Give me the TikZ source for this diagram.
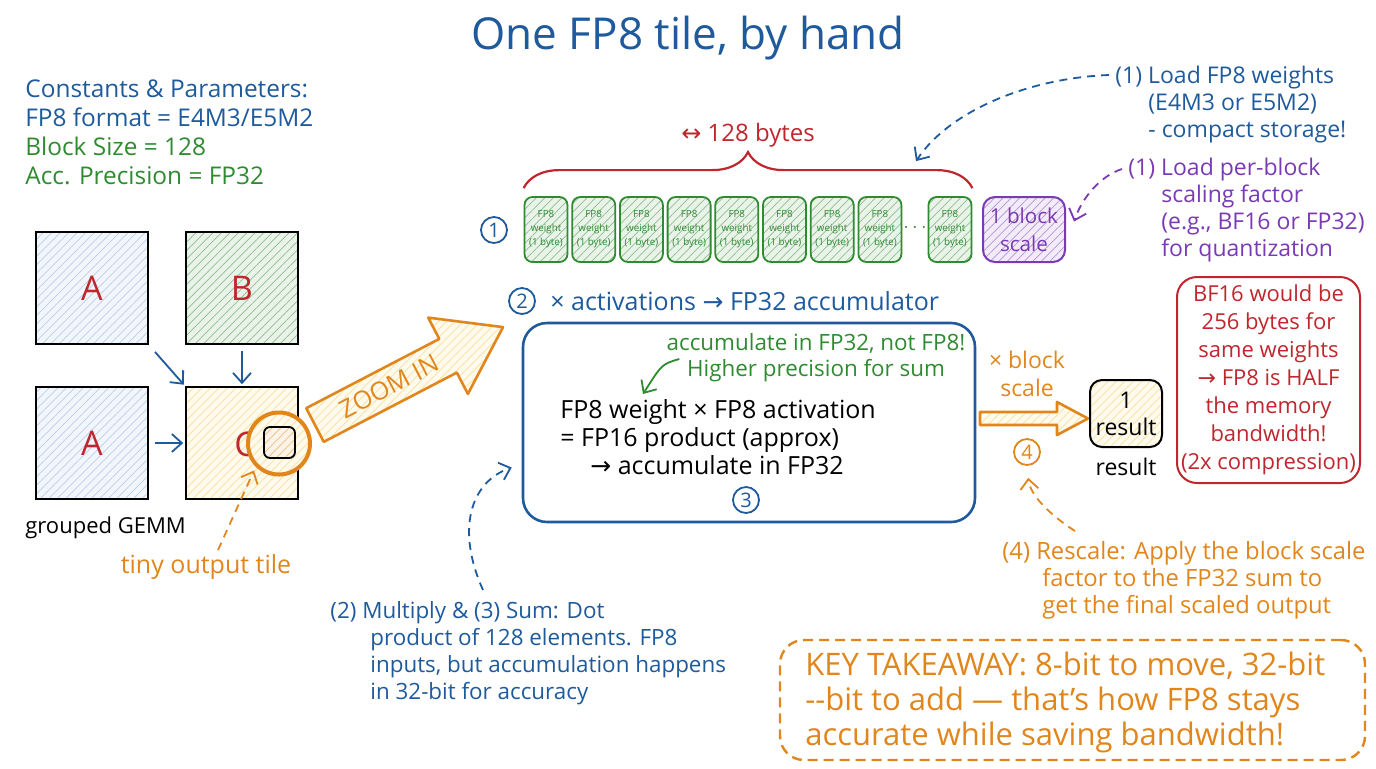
\documentclass[tikz,border=0pt]{standalone}
\usepackage{fontspec}
\setmainfont{Open Sans}
\newfontfamily\symfont{DejaVu Sans}
\usetikzlibrary{patterns.meta,decorations.pathreplacing,arrows.meta,positioning,calc}
\definecolor{inkblue}{HTML}{1E5A9C}
\definecolor{inkgreen}{HTML}{2E8B30}
\definecolor{inkred}{HTML}{C0262D}
\definecolor{inkpurple}{HTML}{7A3AB5}
\definecolor{inkorange}{HTML}{E0861C}
\definecolor{matblue}{HTML}{7FA8D8}
\definecolor{tileyellow}{HTML}{F2C94C}
\newcommand{\rarr}{{\symfont →}}
\tikzset{
  hand/.style 2 args={font=\fontsize{#1}{#2}\selectfont, inner sep=0pt},
  hatch/.style={preaction={fill=#1!10}, pattern={Lines[angle=45,distance=3pt,line width=0.35pt]}, pattern color=#1!55},
  mat/.style={draw=black, line width=0.8pt, minimum size=56pt, inner sep=0pt, text=inkred, font=\fontsize{17}{20}\selectfont},
  wbox/.style={draw=inkgreen, line width=0.9pt, rounded corners=4pt, hatch=inkgreen, minimum width=21.5pt, minimum height=32.5pt,
    inner sep=0pt, align=center, text=inkgreen, font=\fontsize{4.9}{7}\selectfont},
  num/.style={draw=#1, text=#1, circle, line width=0.9pt, minimum size=13pt, inner sep=0pt, font=\fontsize{10}{12}\selectfont},
  flow/.style={draw=#1, line width=0.9pt, -{Straight Barb[length=5pt,width=9pt]}},
  dashflow/.style={draw=#1, line width=0.9pt, dash pattern=on 4pt off 3pt, -{Straight Barb[length=5pt,width=9pt]}},
  bytebrace/.style={decorate, decoration={brace, amplitude=18pt}, draw=inkred, line width=1.1pt}
}
\begin{document}
\begin{tikzpicture}[x=0.5pt,y=-0.5pt]
\useasboundingbox (0,0) rectangle (1376,768);
% title
\node[hand={22}{26}, text=inkblue] (title) at (688,38) {One FP8 tile, by hand};
% constants
\node[hand={12.2}{14.5}, anchor=north west, align=left] (consts) at (25,79)
  {\textcolor{inkblue}{Constants \& Parameters:}\\\textcolor{inkblue}{FP8 format = E4M3/E5M2}\\
   \textcolor{inkgreen}{Block Size = 128}\\\textcolor{inkgreen}{Acc. Precision = FP32}};
% grouped GEMM
\node[mat, hatch=matblue] (A1) at (92,288) {A};
\node[mat, hatch=inkgreen] (B) at (242,288) {B};
\node[mat, hatch=matblue] (A2) at (92,443) {A};
\node[mat, hatch=tileyellow] (C) at (242,443) {};
\node[text=inkred, font=\fontsize{17}{20}\selectfont] (Clab) at (245,444) {C};
\draw[flow=inkblue, shorten <=5pt, shorten >=1pt] (A1.south east) -- (C.north west);
\draw[flow=inkblue, shorten <=3pt, shorten >=1pt] (B.south) -- (C.north);
\draw[flow=inkblue, shorten <=3pt, shorten >=1pt] (A2.east) -- (C.west);
\node[hand={11}{13}, anchor=west] (gemm) at (25,528) {grouped GEMM};
% output tile + zoom circle
\node[circle, draw=inkorange, line width=2pt, minimum size=31pt, preaction={fill=white}, hatch=tileyellow] (zoomc) at (279,443.5) {};
\node[draw=black, line width=0.9pt, rounded corners=3pt, minimum size=15.5pt, hatch=inkorange] (tile) at (279.5,442.5) {};
\node[hand={12.5}{14}, text=inkorange] (tinylab) at (206,567) {tiny output tile};
\draw[dashflow=inkorange, shorten >=2pt] ($(tinylab.north)+(12,-4)$) -- (zoomc.south west);
% zoom in arrow
\begin{scope}[shift={(315,425)}, rotate=27.5]
\draw[draw=inkorange, line width=1.3pt, line join=round, hatch=tileyellow]
  (0,-19) -- (150,-19) -- (150,-43) -- (212,0) -- (150,43) -- (150,19) -- (0,19) -- cycle;
\node[text=inkorange, font=\fontsize{12.5}{14}\selectfont, inner sep=0pt, rotate=27.5] (zoomlab) at (84,0) {ZOOM IN};
\end{scope}
% FP8 weight row
\foreach \i in {0,...,7}
  \node[wbox] (wt\i) at ({546+47.7*\i},229.5) {FP8\\weight\\(1 byte)};
\node[wbox] (wt8) at (950,229.5) {FP8\\weight\\(1 byte)};
\node[text=inkgreen] (dots) at (915,228) {$\cdots$};
\node[draw=inkpurple, line width=1pt, rounded corners=6pt, hatch=inkpurple, minimum width=41pt, minimum height=32.5pt,
  align=center, text=inkpurple, hand={10.3}{14}] (blk) at (1024,229.5) {1 block\\scale};
\node[num=inkblue] (n1) at (494,230) {1};
\draw[bytebrace] ($(wt0.north west)+(0,-8)$) -- ($(wt8.north east)+(0,-8)$);
\node[hand={12}{14}, text=inkred] (bytes) at (748,135) {{\symfont ↔} 128 bytes};
% notes on the right
\node[hand={11.5}{13.5}, text=inkblue, anchor=north west, align=left] (noteW) at (1115,66)
  {(1) Load FP8 weights\\\hspace*{16.5pt}(E4M3 or E5M2)\\\hspace*{16.5pt}- compact storage!};
\node[hand={11.5}{13.5}, text=inkpurple, anchor=north west, align=left] (noteS) at (1128,158)
  {(1) Load per-block\\\hspace*{16.5pt}scaling factor\\\hspace*{16.5pt}(e.g., BF16 or FP32)\\\hspace*{16.5pt}for quantization};
\draw[dashflow=inkblue] ($(noteW.north west)+(-6,9)$) .. controls (1030,78) and (950,110) .. ($(wt8.north)+(-34,-35)$);
\draw[dashflow=inkpurple] ($(noteS.north west)+(-6,11)$) .. controls (1100,176) and (1082,198) .. ($(blk.east)+(8,-8)$);
% step 2 / 3
\node[num=inkblue] (n2) at (522,301) {2};
\node[hand={12.5}{14}, text=inkblue, anchor=west] (actlab) at (550,301) {× activations \rarr\ FP32 accumulator};
\node[draw=inkblue, line width=1.3pt, rounded corners=12pt, minimum width=226pt, minimum height=99.5pt] (accbox) at (749,422.5) {};
\node[hand={11.2}{13}, text=inkgreen, align=center] (hint) at (816,358) {accumulate in FP32, not FP8!\\Higher precision for sum};
\coordinate (hinttip) at (643,394);
\draw[flow=inkgreen] ($(hint.west)+(13,1)$) .. controls (662,364) .. (hinttip);
\node[hand={12.5}{14}, anchor=north west, align=left] (prod) at (560,399)
  {FP8 weight × FP8 activation\\= FP16 product (approx)\\\hspace*{15pt}\rarr\ accumulate in FP32};
\node[num=inkblue] (n3) at (746,500) {3};
\node[hand={11.2}{13.5}, text=inkblue, anchor=north west, align=left] (mulnote) at (330,601)
  {(2) Multiply \& (3) Sum: Dot\\\hspace*{20pt}product of 128 elements. FP8\\\hspace*{20pt}inputs, but accumulation happens\\\hspace*{20pt}in 32-bit for accuracy};
\draw[dashflow=inkblue] ($(mulnote.north west)+(153,-11)$) .. controls (456,530) and (470,482) .. ($(accbox.west)+(-10,45)$);
% step 4
\node[hand={11.5}{14}, text=inkorange, align=center] (bscale) at (1027,374) {× block\\scale};
\draw[draw=inkorange, line width=1.3pt, line join=round, hatch=tileyellow]
  (980,412) -- (1057,412) -- (1057,402) -- (1088,418.5) -- (1057,435) -- (1057,425) -- (980,425) -- cycle;
\node[num=inkorange] (n4) at (1027,452) {4};
\node[draw=black, line width=1pt, rounded corners=6pt, hatch=tileyellow, minimum width=36pt, minimum height=33.5pt,
  align=center, hand={11.5}{13.5}] (res) at (1126,413.5) {1\\result};
\node[hand={11.5}{14}] (reslab) at (1126,467) {result};
\node[draw=inkred, line width=1pt, rounded corners=10pt, minimum width=91.5pt, minimum height=103pt,
  text=inkred, align=center, hand={11}{14}] (bf16) at (1268.5,380)
  {BF16 would be\\256 bytes for\\same weights\\\rarr\ FP8 is HALF\\the memory\\bandwidth!\\(2x compression)};
\node[hand={11.9}{13.5}, text=inkorange, anchor=north west, align=left] (rescale) at (1002,541)
  {(4) Rescale: Apply the block scale\\\hspace*{20pt}factor to the FP32 sum to\\\hspace*{20pt}get the final scaled output};
\draw[dashflow=inkorange, shorten >=6pt] ($(rescale.north west)+(73,-10)$) .. controls (1050,515) and (1030,495) .. (n4.south);
% key takeaway
\node[draw=inkorange, line width=1.2pt, dash pattern=on 5pt off 3pt, rounded corners=12pt, minimum width=292.5pt, minimum height=60pt] (takeaway) at (1072.5,700) {};
\node[hand={15.5}{17.5}, text=inkorange, anchor=north west, align=left] (taketext) at (805,652)
  {KEY TAKEAWAY: 8-bit to move, 32-bit\\-{}-bit to add — that’s how FP8 stays\\accurate while saving bandwidth!};
\end{tikzpicture}
\end{document}
